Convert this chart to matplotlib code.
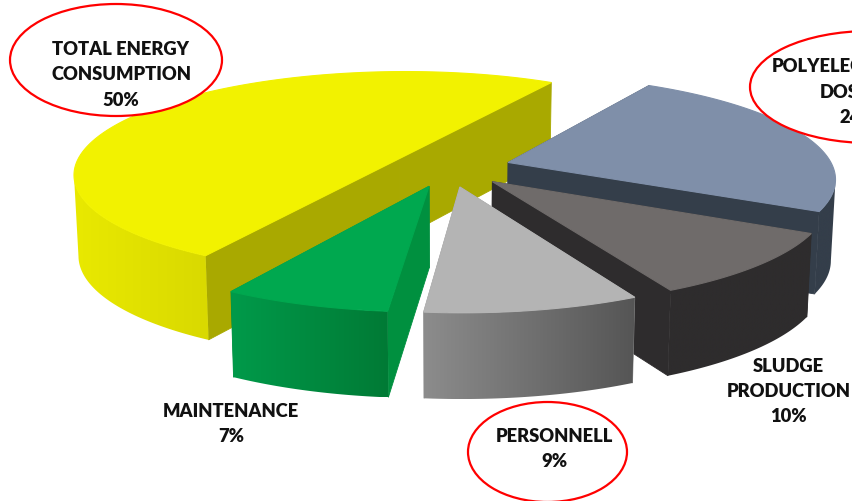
import numpy as np
import matplotlib
matplotlib.use('Agg')
import matplotlib.pyplot as plt
from matplotlib.colors import LinearSegmentedColormap
from matplotlib.patches import Ellipse, Polygon

# slices in the order they run round the pie
categories = ['TOTAL ENERGY\nCONSUMPTION', 'MAINTENANCE', 'PERSONNELL', 'SLUDGE\nPRODUCTION', 'POLYELECTROLYTE\nDOSAGE']
shares = [50, 7, 9, 10, 24]

top_colors = ['#f2f200', '#00a84f', '#b4b4b4', '#6f6b6a', '#7f8fa9']
cut_colors = ['#a9a900', '#00903f', '#8a8a8a', '#2e2c2d', '#343e4a']
rim_left = ['#e9e900', '#009a4a', '#8c8c8c', '#2e2c2d', '#343e4a']
rim_right = ['#d9d900', '#007a35', '#555555', '#2e2c2d', '#343e4a']
explode = [0.1782, 0.1862, 0.1862, 0.1880, 0.1923]

# perspective of the pie on the page
cx, cy = 448.457, 168.824
rx, ry = 325.219, 101.931
persp = 0.1423
start_angle = 59.1968
draw_order = [0, 4, 3, 2, 1]


def project(x, y):
    p = 1 / (1 + persp * y)
    return cx + rx * x * p, cy - ry * y * p


def project_low(x, y):
    # bottom face: lines converge a little and get shorter towards the back
    sx, sy = project(x, y)
    return cx + (sx - cx) * 0.988, sy + 80.5 * (1 - 0.06 * y)


fig = plt.figure(figsize=(8.52, 5.02), dpi=100)
ax = fig.add_axes([0, 0, 1, 1])
ax.axis('off')

ends = np.radians(start_angle + np.cumsum([0] + shares) * 3.6)

for i in draw_order:
    a, b = ends[i], ends[i + 1]
    mid = (a + b) / 2
    ox, oy = explode[i] * np.cos(mid), explode[i] * np.sin(mid)
    t = np.linspace(a, b, int(shares[i] * 6) + 20)
    wx, wy = ox + np.cos(t), oy + np.sin(t)

    # the two flat cut faces
    for k in [0, -1]:
        fx = np.array([ox, wx[k]])
        fy = np.array([oy, wy[k]])
        xt, yt = project(fx, fy)
        xl, yl = project_low(fx, fy)
        ax.fill(np.r_[xt, xl[::-1]], np.r_[yt, yl[::-1]], color=cut_colors[i], lw=0.6, zorder=1)

    # outer rim: the forward part runs left to right as the angle grows
    xt, yt = project(wx, wy)
    xl, yl = project_low(wx, wy)
    front = np.gradient(xt) > 0
    rim_x = np.r_[xt[front], xl[front][::-1]]
    rim_y = np.r_[yt[front], yl[front][::-1]]
    cmap = LinearSegmentedColormap.from_list('rim', [rim_left[i], rim_right[i]])
    shade = ax.imshow(np.linspace(0, 1, 256)[None, :], cmap=cmap, aspect='auto', zorder=1,
                      extent=(rim_x.min(), rim_x.max(), rim_y.max(), rim_y.min()))
    shade.set_clip_path(Polygon(np.c_[rim_x, rim_y], transform=ax.transData))

    # top face
    xa, ya = project(ox, oy)
    ax.fill(np.r_[xa, xt], np.r_[ya, yt], color=top_colors[i], lw=0.8, zorder=1)

# red rings round the three labels
rings = [(116, 61, 212, 112), (870, 88, 240, 112), (547.5, 453, 159, 100)]
for x, y, w, h in rings:
    ax.add_patch(Ellipse((x, y), w, h, fc='white', ec='#ff0000', lw=1.6, zorder=3))

labels = [
    (121, 75, 0), (231, 424, 1), (554, 449, 2), (788.5, 391.5, 3), (858, 92, 4),
]
for x, y, i in labels:
    ax.text(x, y, categories[i] + '\n%d%%' % shares[i], ha='center', va='center', fontsize=13.2,
            fontweight='heavy', family=['Lato', 'DejaVu Sans'], color='#111111', linespacing=1.59,
            zorder=4, clip_on=False)

ax.set_xlim(0, 852)
ax.set_ylim(502, 0)

fig.savefig('out.png', dpi=100)
